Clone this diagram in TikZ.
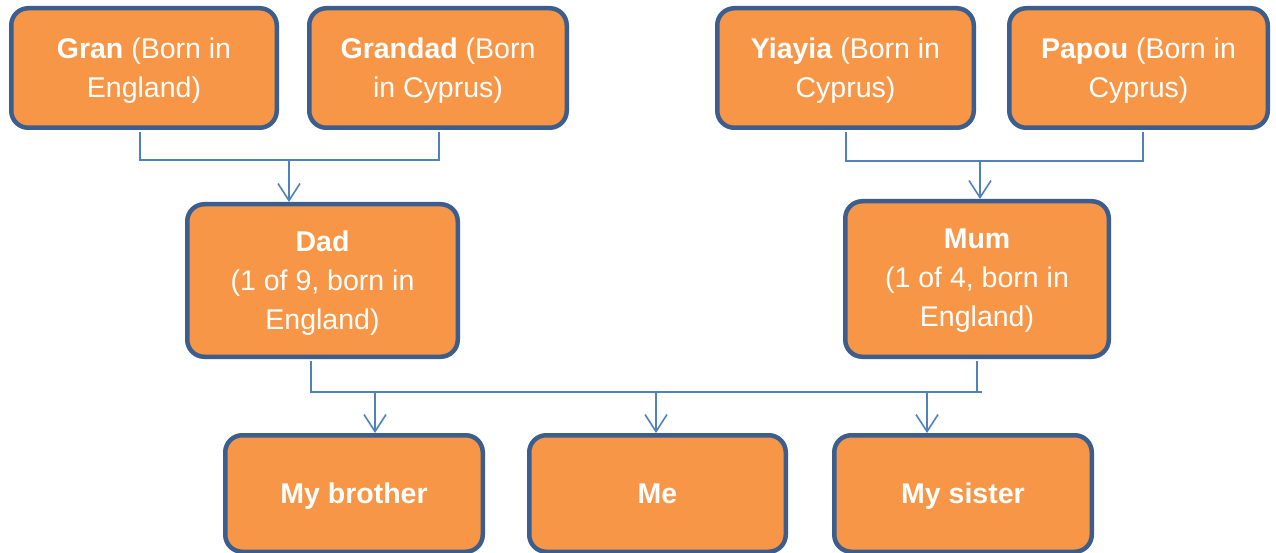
\documentclass[tikz,border=0pt]{standalone}
\usepackage{fontspec}
\setmainfont{Liberation Sans}
\usetikzlibrary{arrows.meta}
\definecolor{boxfill}{HTML}{F79646}
\definecolor{boxline}{HTML}{3B5E8E}
\definecolor{linkcol}{HTML}{4F81BD}
\tikzset{
  person/.style={draw=boxline, line width=4.5pt, fill=boxfill, rounded corners=17pt,
    text=white, align=center, inner sep=0pt, text height=20.4pt, text depth=0pt,
    font=\fontsize{28.5}{39}\selectfont},
  twoline/.style={text height=59.4pt},
  threeline/.style={text height=98.4pt},
  link/.style={draw=linkcol, line width=1.6pt},
  arr/.style={link, -{Straight Barb[length=17pt,width=22pt,line width=1.6pt]}}
}
\begin{document}
\begin{tikzpicture}[x=1pt,y=-1pt]
\useasboundingbox (0,0) rectangle (1276,553);
% top row
\node[person, twoline, minimum width=265.5pt, minimum height=119.5pt] (gran) at (144,68) {\textbf{Gran} (Born in\\England)};
\node[person, twoline, minimum width=257.5pt, minimum height=119.5pt] (grandad) at (438,68) {\textbf{Grandad} (Born\\in Cyprus)};
\node[person, twoline, minimum width=256.5pt, minimum height=119.5pt] (yiayia) at (845.5,68) {\textbf{Yiayia} (Born in\\Cyprus)};
\node[person, twoline, minimum width=258.5pt, minimum height=119.5pt] (papou) at (1138.5,68) {\textbf{Papou} (Born in\\Cyprus)};
% middle row
\node[person, threeline, minimum width=270.5pt, minimum height=152.5pt] (dad) at (322.5,280.5) {\textbf{Dad}\\(1 of 9, born in\\England)};
\node[person, threeline, minimum width=263.5pt, minimum height=155.5pt, text depth=2.5pt] (mum) at (977,279) {\textbf{Mum}\\(1 of 4, born in\\England)};
% bottom row
\node[person, minimum width=257.5pt, minimum height=116.5pt] (brother) at (354,493.5) {\textbf{My brother}};
\node[person, minimum width=256.5pt, minimum height=116.5pt] (me) at (657.5,493.5) {\textbf{Me}};
\node[person, minimum width=257.5pt, minimum height=116.5pt] (sister) at (963,493.5) {\textbf{My sister}};
% junction coordinates
\coordinate (jl) at (289,160);
\coordinate (jr) at (980,161);
\coordinate (jb1) at (375,392);
\coordinate (jb2) at (656,392);
\coordinate (jb3) at (927,392);
\coordinate (jbend) at (982,392);
% grandparents to parents
\draw[link] ([xshift=-4pt,yshift=-2.25pt]gran.south) |- (jl) -| ([xshift=1pt,yshift=-2.25pt]grandad.south);
\draw[arr] (jl) -- (jl |- dad.north);
\draw[link] ([xshift=0.5pt,yshift=-2.25pt]yiayia.south) |- (jr) -| ([xshift=4.5pt,yshift=-2.25pt]papou.south);
\draw[arr] (jr) -- (jr |- mum.north);
% parents to children
\draw[link] ([xshift=-11.5pt,yshift=-2.25pt]dad.south) |- (jbend);
\draw[link] ([yshift=-2.25pt]mum.south) -- (mum.south |- jbend);
\draw[arr] (jb1) -- (jb1 |- brother.north);
\draw[arr] (jb2) -- (jb2 |- me.north);
\draw[arr] (jb3) -- (jb3 |- sister.north);
\end{tikzpicture}
\end{document}
